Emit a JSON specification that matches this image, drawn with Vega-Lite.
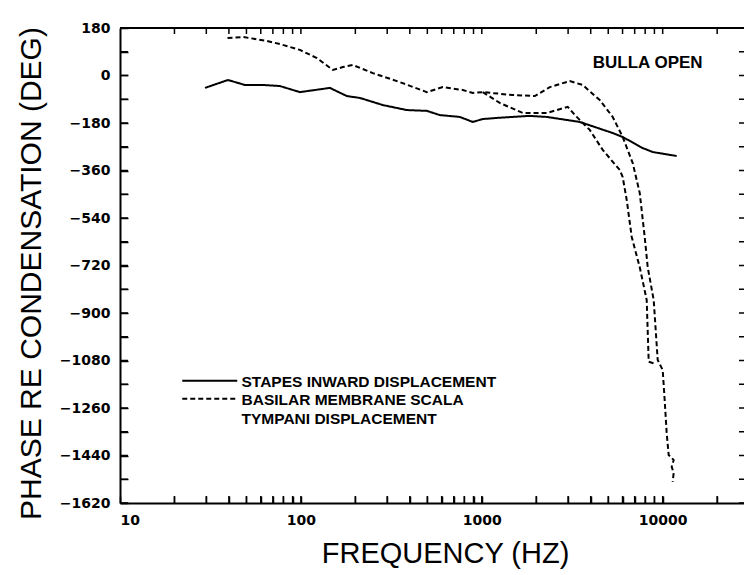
{
  "$schema": "https://vega.github.io/schema/vega-lite/v6.json",
  "width": 629,
  "height": 475,
  "autosize": {"type": "none"},
  "padding": {"left": 120, "top": 28, "right": -5, "bottom": 72},
  "background": "white",
  "config": {
    "view": {"stroke": null},
    "axis": {"domain": true, "domainColor": "black", "domainWidth": 2, "tickColor": "black", "tickWidth": 1.5, "grid": false, "labelColor": "black", "titleColor": "black"}
  },
  "datasets": {
    "yt": [{"v": -1620}, {"v": -1530}, {"v": -1440}, {"v": -1350}, {"v": -1260}, {"v": -1170}, {"v": -1080}, {"v": -990}, {"v": -900}, {"v": -810}, {"v": -720}, {"v": -630}, {"v": -540}, {"v": -450}, {"v": -360}, {"v": -270}, {"v": -180}, {"v": -90}, {"v": 0}, {"v": 90}, {"v": 180}],
    "xt": [{"v": 20}, {"v": 30}, {"v": 40}, {"v": 50}, {"v": 60}, {"v": 70}, {"v": 80}, {"v": 90}, {"v": 100}, {"v": 200}, {"v": 300}, {"v": 400}, {"v": 500}, {"v": 600}, {"v": 700}, {"v": 800}, {"v": 900}, {"v": 1000}, {"v": 2000}, {"v": 3000}, {"v": 4000}, {"v": 5000}, {"v": 6000}, {"v": 7000}, {"v": 8000}, {"v": 9000}, {"v": 10000}, {"v": 20000}],
    "note": [{"note": "BULLA OPEN"}]
  },
  "data": {"values": [
    {"curve": "S", "type": "STAPES INWARD DISPLACEMENT", "i": 0, "f": 29.5, "p": -47},
    {"curve": "S", "type": "STAPES INWARD DISPLACEMENT", "i": 1, "f": 39.5, "p": -17},
    {"curve": "S", "type": "STAPES INWARD DISPLACEMENT", "i": 2, "f": 49.1, "p": -36},
    {"curve": "S", "type": "STAPES INWARD DISPLACEMENT", "i": 3, "f": 61.7, "p": -36},
    {"curve": "S", "type": "STAPES INWARD DISPLACEMENT", "i": 4, "f": 76.6, "p": -40},
    {"curve": "S", "type": "STAPES INWARD DISPLACEMENT", "i": 5, "f": 98.7, "p": -63},
    {"curve": "S", "type": "STAPES INWARD DISPLACEMENT", "i": 6, "f": 119.5, "p": -55},
    {"curve": "S", "type": "STAPES INWARD DISPLACEMENT", "i": 7, "f": 144.6, "p": -47},
    {"curve": "S", "type": "STAPES INWARD DISPLACEMENT", "i": 8, "f": 179.6, "p": -78},
    {"curve": "S", "type": "STAPES INWARD DISPLACEMENT", "i": 9, "f": 211.8, "p": -85},
    {"curve": "S", "type": "STAPES INWARD DISPLACEMENT", "i": 10, "f": 283.8, "p": -112},
    {"curve": "S", "type": "STAPES INWARD DISPLACEMENT", "i": 11, "f": 385.2, "p": -131},
    {"curve": "S", "type": "STAPES INWARD DISPLACEMENT", "i": 12, "f": 496.7, "p": -134},
    {"curve": "S", "type": "STAPES INWARD DISPLACEMENT", "i": 13, "f": 586.1, "p": -150},
    {"curve": "S", "type": "STAPES INWARD DISPLACEMENT", "i": 14, "f": 755.6, "p": -157},
    {"curve": "S", "type": "STAPES INWARD DISPLACEMENT", "i": 15, "f": 891.9, "p": -176},
    {"curve": "S", "type": "STAPES INWARD DISPLACEMENT", "i": 16, "f": 1013, "p": -165},
    {"curve": "S", "type": "STAPES INWARD DISPLACEMENT", "i": 17, "f": 1257, "p": -160},
    {"curve": "S", "type": "STAPES INWARD DISPLACEMENT", "i": 18, "f": 1842, "p": -153},
    {"curve": "S", "type": "STAPES INWARD DISPLACEMENT", "i": 19, "f": 2286, "p": -157},
    {"curve": "S", "type": "STAPES INWARD DISPLACEMENT", "i": 20, "f": 3479, "p": -176},
    {"curve": "S", "type": "STAPES INWARD DISPLACEMENT", "i": 21, "f": 5294, "p": -218},
    {"curve": "S", "type": "STAPES INWARD DISPLACEMENT", "i": 22, "f": 6011, "p": -233},
    {"curve": "S", "type": "STAPES INWARD DISPLACEMENT", "i": 23, "f": 7754, "p": -275},
    {"curve": "S", "type": "STAPES INWARD DISPLACEMENT", "i": 24, "f": 8806, "p": -290},
    {"curve": "S", "type": "STAPES INWARD DISPLACEMENT", "i": 25, "f": 11950, "p": -305},

    {"curve": "A", "type": "BASILAR MEMBRANE SCALA", "i": 0, "f": 39.3, "p": 142},
    {"curve": "A", "type": "BASILAR MEMBRANE SCALA", "i": 1, "f": 47.8, "p": 146},
    {"curve": "A", "type": "BASILAR MEMBRANE SCALA", "i": 2, "f": 64.9, "p": 131},
    {"curve": "A", "type": "BASILAR MEMBRANE SCALA", "i": 3, "f": 76.6, "p": 119},
    {"curve": "A", "type": "BASILAR MEMBRANE SCALA", "i": 4, "f": 98.7, "p": 97},
    {"curve": "A", "type": "BASILAR MEMBRANE SCALA", "i": 5, "f": 122.6, "p": 66},
    {"curve": "A", "type": "BASILAR MEMBRANE SCALA", "i": 6, "f": 150.3, "p": 21},
    {"curve": "A", "type": "BASILAR MEMBRANE SCALA", "i": 7, "f": 170.6, "p": 32},
    {"curve": "A", "type": "BASILAR MEMBRANE SCALA", "i": 8, "f": 193.8, "p": 40},
    {"curve": "A", "type": "BASILAR MEMBRANE SCALA", "i": 9, "f": 249.9, "p": 9},
    {"curve": "A", "type": "BASILAR MEMBRANE SCALA", "i": 10, "f": 352.4, "p": -25},
    {"curve": "A", "type": "BASILAR MEMBRANE SCALA", "i": 11, "f": 496.7, "p": -63},
    {"curve": "A", "type": "BASILAR MEMBRANE SCALA", "i": 12, "f": 608.8, "p": -44},
    {"curve": "A", "type": "BASILAR MEMBRANE SCALA", "i": 13, "f": 785.2, "p": -55},
    {"curve": "A", "type": "BASILAR MEMBRANE SCALA", "i": 14, "f": 891.9, "p": -66},
    {"curve": "A", "type": "BASILAR MEMBRANE SCALA", "i": 15, "f": 1013, "p": -63},
    {"curve": "A", "type": "BASILAR MEMBRANE SCALA", "i": 16, "f": 1484, "p": -74},
    {"curve": "A", "type": "BASILAR MEMBRANE SCALA", "i": 17, "f": 1963, "p": -78},
    {"curve": "A", "type": "BASILAR MEMBRANE SCALA", "i": 18, "f": 2376, "p": -44},
    {"curve": "A", "type": "BASILAR MEMBRANE SCALA", "i": 19, "f": 3064, "p": -21},
    {"curve": "A", "type": "BASILAR MEMBRANE SCALA", "i": 20, "f": 3614, "p": -36},
    {"curve": "A", "type": "BASILAR MEMBRANE SCALA", "i": 21, "f": 4487, "p": -93},
    {"curve": "A", "type": "BASILAR MEMBRANE SCALA", "i": 22, "f": 5294, "p": -157},
    {"curve": "A", "type": "BASILAR MEMBRANE SCALA", "i": 23, "f": 6011, "p": -233},
    {"curve": "A", "type": "BASILAR MEMBRANE SCALA", "i": 24, "f": 6830, "p": -332},
    {"curve": "A", "type": "BASILAR MEMBRANE SCALA", "i": 25, "f": 7465, "p": -445},
    {"curve": "A", "type": "BASILAR MEMBRANE SCALA", "i": 26, "f": 7954, "p": -612},
    {"curve": "A", "type": "BASILAR MEMBRANE SCALA", "i": 27, "f": 8263, "p": -726},
    {"curve": "A", "type": "BASILAR MEMBRANE SCALA", "i": 28, "f": 8919, "p": -851},
    {"curve": "A", "type": "BASILAR MEMBRANE SCALA", "i": 29, "f": 9384, "p": -1078},
    {"curve": "A", "type": "BASILAR MEMBRANE SCALA", "i": 30, "f": 10000, "p": -1116},
    {"curve": "A", "type": "BASILAR MEMBRANE SCALA", "i": 31, "f": 10256, "p": -1230},
    {"curve": "A", "type": "BASILAR MEMBRANE SCALA", "i": 32, "f": 10522, "p": -1355},
    {"curve": "A", "type": "BASILAR MEMBRANE SCALA", "i": 33, "f": 10790, "p": -1438},
    {"curve": "A", "type": "BASILAR MEMBRANE SCALA", "i": 34, "f": 11500, "p": -1457},
    {"curve": "A", "type": "BASILAR MEMBRANE SCALA", "i": 35, "f": 11213, "p": -1483},
    {"curve": "A", "type": "BASILAR MEMBRANE SCALA", "i": 36, "f": 11500, "p": -1506},
    {"curve": "A", "type": "BASILAR MEMBRANE SCALA", "i": 37, "f": 11357, "p": -1540},

    {"curve": "B", "type": "BASILAR MEMBRANE SCALA", "i": 0, "f": 1013, "p": -63},
    {"curve": "B", "type": "BASILAR MEMBRANE SCALA", "i": 1, "f": 1257, "p": -104},
    {"curve": "B", "type": "BASILAR MEMBRANE SCALA", "i": 2, "f": 1684, "p": -142},
    {"curve": "B", "type": "BASILAR MEMBRANE SCALA", "i": 3, "f": 2286, "p": -142},
    {"curve": "B", "type": "BASILAR MEMBRANE SCALA", "i": 4, "f": 2987, "p": -119},
    {"curve": "B", "type": "BASILAR MEMBRANE SCALA", "i": 5, "f": 3349, "p": -157},
    {"curve": "B", "type": "BASILAR MEMBRANE SCALA", "i": 6, "f": 3951, "p": -206},
    {"curve": "B", "type": "BASILAR MEMBRANE SCALA", "i": 7, "f": 4661, "p": -282},
    {"curve": "B", "type": "BASILAR MEMBRANE SCALA", "i": 8, "f": 5788, "p": -358},
    {"curve": "B", "type": "BASILAR MEMBRANE SCALA", "i": 9, "f": 6011, "p": -385},
    {"curve": "B", "type": "BASILAR MEMBRANE SCALA", "i": 10, "f": 6327, "p": -472},
    {"curve": "B", "type": "BASILAR MEMBRANE SCALA", "i": 11, "f": 6743, "p": -612},
    {"curve": "B", "type": "BASILAR MEMBRANE SCALA", "i": 12, "f": 7465, "p": -726},
    {"curve": "B", "type": "BASILAR MEMBRANE SCALA", "i": 13, "f": 8159, "p": -851},
    {"curve": "B", "type": "BASILAR MEMBRANE SCALA", "i": 14, "f": 8370, "p": -1085},
    {"curve": "B", "type": "BASILAR MEMBRANE SCALA", "i": 15, "f": 9150, "p": -1093}
  ]},
  "layer": [
    {
      "mark": {"type": "line", "color": "black", "strokeWidth": 2},
      "encoding": {
        "x": {"field": "f", "type": "quantitative",
          "scale": {"type": "log", "domain": [10, 30000], "nice": false},
          "axis": {"orient": "bottom",
            "values": [10,20,30,40,50,60,70,80,90,100,200,300,400,500,600,700,800,900,1000,2000,3000,4000,5000,6000,7000,8000,9000,10000,20000],
            "format": "d",
            "labelExpr": "indexof([10,100,1000,10000], datum.value) >= 0 ? datum.label : ''",
            "tickSize": -7, "labelPadding": 17,
            "labelFont": "DejaVu Sans", "labelFontWeight": "bold", "labelFontSize": 14,
            "title": "FREQUENCY (HZ)", "titleFont": "Liberation Sans", "titleFontSize": 29, "titleFontWeight": "normal",
            "titleX": 325, "titleY": 59, "titleBaseline": "alphabetic", "titleAnchor": "middle", "titleAlign": "center"}},
        "y": {"field": "p", "type": "quantitative",
          "scale": {"domain": [-1620, 180], "nice": false, "zero": false},
          "axis": {"orient": "left",
            "values": [-1620,-1530,-1440,-1350,-1260,-1170,-1080,-990,-900,-810,-720,-630,-540,-450,-360,-270,-180,-90,0,90,180],
            "format": "d",
            "labelExpr": "datum.value % 180 == 0 ? datum.label : ''",
            "tickSize": -8, "labelPadding": 18,
            "labelFont": "DejaVu Sans", "labelFontWeight": "bold", "labelFontSize": 14,
            "title": "PHASE RE CONDENSATION (DEG)", "titleFont": "Liberation Sans", "titleFontSize": 30, "titleFontWeight": "normal",
            "titleAngle": -90, "titleX": -80, "titleY": 245, "titleBaseline": "alphabetic", "titleAnchor": "middle", "titleAlign": "center"}},
        "detail": {"field": "curve"},
        "order": {"field": "i"},
        "strokeDash": {"field": "type", "type": "nominal",
          "scale": {"domain": ["STAPES INWARD DISPLACEMENT", "BASILAR MEMBRANE SCALA"], "range": [[1, 0], [5, 3]]},
          "legend": {"orient": "none", "legendX": 82, "legendY": 345, "title": null,
            "symbolType": "M-5,0H5", "symbolSize": 121, "symbolStrokeWidth": 2, "symbolStrokeColor": "black",
            "labelFont": "Liberation Sans", "labelFontSize": 15.5, "labelFontWeight": "bold", "labelColor": "black",
            "labelOffset": 24, "rowPadding": 0, "labelLimit": 500, "padding": 0,
            "labelBaseline": "top",
            "labelExpr": "datum.label == 'BASILAR MEMBRANE SCALA' ? ['BASILAR MEMBRANE SCALA', '\u2007\u2007TYMPANI DISPLACEMENT'] : datum.label",
            "encode": {"labels": {"update": {"dy": {"value": -6}, "lineHeight": {"value": 19}}}}}}
      }
    },
    {
      "data": {"name": "yt"},
      "mark": {"type": "tick", "orient": "horizontal", "size": 16, "thickness": 1.5, "color": "black", "opacity": 1, "clip": true},
      "encoding": {
        "y": {"field": "v", "type": "quantitative", "axis": null},
        "x": {"datum": 10, "type": "quantitative", "axis": null}
      }
    },
    {
      "data": {"name": "yt"},
      "mark": {"type": "tick", "orient": "horizontal", "size": 20, "thickness": 1.5, "color": "black", "opacity": 1, "clip": true},
      "encoding": {
        "y": {"field": "v", "type": "quantitative", "axis": null},
        "x": {"datum": 30000, "type": "quantitative", "axis": null}
      }
    },
    {
      "data": {"name": "xt"},
      "mark": {"type": "tick", "orient": "vertical", "size": 14, "thickness": 1.5, "color": "black", "opacity": 1, "clip": true},
      "encoding": {
        "x": {"field": "v", "type": "quantitative", "axis": null},
        "y": {"datum": -1620, "type": "quantitative", "axis": null}
      }
    },
    {
      "data": {"name": "xt"},
      "mark": {"type": "tick", "orient": "vertical", "size": 12, "thickness": 1.5, "color": "black", "opacity": 1, "clip": true},
      "encoding": {
        "x": {"field": "v", "type": "quantitative", "axis": null},
        "y": {"datum": 180, "type": "quantitative", "axis": null}
      }
    },
    {
      "data": {"name": "note"},
      "mark": {"type": "rule", "color": "black", "strokeWidth": 2},
      "encoding": {
        "y": {"datum": 180, "type": "quantitative", "axis": null}
      }
    },
    {
      "data": {"name": "note"},
      "mark": {"type": "text", "font": "Liberation Sans", "fontSize": 17, "fontWeight": "bold", "color": "black", "align": "center", "baseline": "middle"},
      "encoding": {
        "text": {"field": "note"},
        "x": {"datum": 8260, "type": "quantitative", "axis": null},
        "y": {"datum": 47, "type": "quantitative", "axis": null}
      }
    }
  ],
  "resolve": {"axis": {"x": "independent", "y": "independent"}}
}
